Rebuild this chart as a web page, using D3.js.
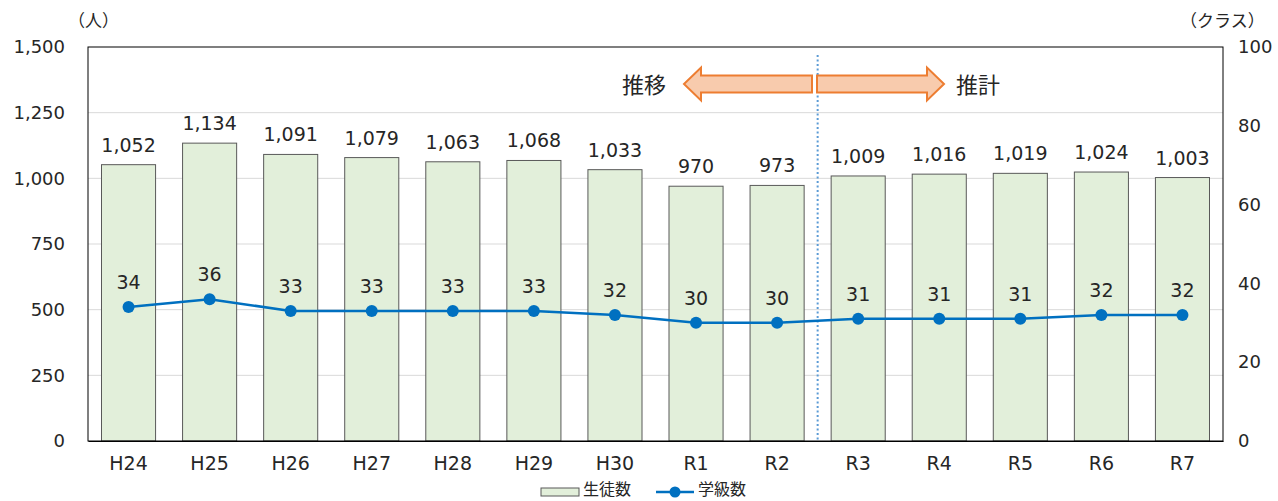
<!DOCTYPE html>
<html><head><meta charset="utf-8">
<script src="https://cdn.jsdelivr.net/npm/d3@7"></script>
<style>body{margin:0;background:#fff;}svg{display:block;font-family:"DejaVu Sans","Noto Sans CJK JP",sans-serif;}</style>
</head><body>
<svg id="c" width="1278" height="501"></svg>
<script>
const categories = ["H24","H25","H26","H27","H28","H29","H30","R1","R2","R3","R4","R5","R6","R7"];
const students = [1052,1134,1091,1079,1063,1068,1033,970,973,1009,1016,1019,1024,1003];
const classes = [34,36,33,33,33,33,32,30,30,31,31,31,32,32];
const leftTicks = [0,250,500,750,1000,1250,1500];
const rightTicks = [0,20,40,60,80,100];

const svg = d3.select("#c");
const L=88, R=1223, T=47, B=441;
const x = d3.scaleBand().domain(categories).range([L,R]).paddingInner(0.333).paddingOuter(0.1665);
const yL = d3.scaleLinear().domain([0,1500]).range([B,T]);
const yR = d3.scaleLinear().domain([0,100]).range([B,T]);
const fmt = d3.format(",");
const txt = "#262626";

// grid
svg.append("g").selectAll("line").data(leftTicks.filter(d=>d>0&&d<1500)).join("line")
  .attr("x1",L).attr("x2",R).attr("y1",d=>yL(d)).attr("y2",d=>yL(d))
  .attr("stroke","#d9d9d9").attr("stroke-width",1);

// bars
svg.append("g").selectAll("rect").data(students).join("rect")
  .attr("x",(d,i)=>x(categories[i])).attr("width",x.bandwidth())
  .attr("y",d=>yL(d)).attr("height",d=>B-yL(d))
  .attr("fill","#e2efda").attr("stroke","#595959").attr("stroke-width",1);

// frame
svg.append("rect").attr("x",L).attr("y",T).attr("width",R-L).attr("height",B-T)
  .attr("fill","none").attr("stroke","#000").attr("stroke-width",1);

// divider
const divX = x(categories[9]) - x.step()*x.paddingInner()/2;
svg.append("line").attr("x1",divX).attr("x2",divX).attr("y1",55).attr("y2",B)
  .attr("stroke","#5b9bd5").attr("stroke-width",2).attr("stroke-dasharray","2,2.5");

// axes
const axL = svg.append("g").attr("transform",`translate(${L},0)`)
  .call(d3.axisLeft(yL).tickValues(leftTicks).tickFormat(fmt).tickSize(0).tickPadding(23))
  .attr("font-family",null).attr("font-size",null);
axL.select(".domain").remove();
axL.selectAll("text").attr("font-size",18).attr("fill",txt);

const axR = svg.append("g").attr("transform",`translate(${R},0)`)
  .call(d3.axisRight(yR).tickValues(rightTicks).tickSize(0).tickPadding(15))
  .attr("font-family",null).attr("font-size",null);
axR.select(".domain").remove();
axR.selectAll("text").attr("font-size",18).attr("fill",txt);

const axB = svg.append("g").attr("transform",`translate(0,${B})`)
  .call(d3.axisBottom(x).tickSize(0).tickPadding(16))
  .attr("font-family",null).attr("font-size",null);
axB.select(".domain").attr("stroke","#000");
axB.selectAll("text").attr("font-size",19).attr("fill",txt);

// bar labels
svg.append("g").selectAll("text").data(students).join("text")
  .attr("x",(d,i)=>x(categories[i])+x.bandwidth()/2).attr("y",d=>yL(d)-13)
  .attr("text-anchor","middle").attr("font-size",19).attr("fill",txt).text(d=>fmt(d));

// line
const cx = (d,i)=>x(categories[i])+x.bandwidth()/2;
svg.append("path").datum(classes)
  .attr("d",d3.line().x(cx).y(d=>yR(d)))
  .attr("fill","none").attr("stroke","#0070c0").attr("stroke-width",2.5);
svg.append("g").selectAll("circle").data(classes).join("circle")
  .attr("cx",cx).attr("cy",d=>yR(d)).attr("r",6).attr("fill","#0070c0");
svg.append("g").selectAll("text").data(classes).join("text")
  .attr("x",cx).attr("y",d=>yR(d)-18).attr("text-anchor","middle")
  .attr("font-size",19).attr("fill",txt).text(d=>d);

// axis titles
svg.append("text").attr("x",68).attr("y",27).attr("font-size",17).attr("fill",txt)
  .attr("font-family","Noto Sans CJK JP").text("（人）");
svg.append("text").attr("x",1180).attr("y",27).attr("font-size",17).attr("fill",txt)
  .attr("font-family","Noto Sans CJK JP").text("（クラス）");

// arrows
function arrow(x0,x1,dir){
  const yc=84, hs=8.5, hh=16.5, hl=17;
  let pts;
  if(dir<0){
    pts=[[x0,yc],[x0+hl,yc-hh],[x0+hl,yc-hs],[x1,yc-hs],[x1,yc+hs],[x0+hl,yc+hs],[x0+hl,yc+hh]];
  } else {
    pts=[[x1,yc],[x1-hl,yc-hh],[x1-hl,yc-hs],[x0,yc-hs],[x0,yc+hs],[x1-hl,yc+hs],[x1-hl,yc+hh]];
  }
  svg.append("polygon").attr("points",pts.map(p=>p.join(",")).join(" "))
    .attr("fill","#f8cbad").attr("stroke","#ed7d31").attr("stroke-width",2);
}
arrow(684,812,-1);
arrow(817,944,1);
svg.append("text").attr("x",622).attr("y",93).attr("font-size",22).attr("fill",txt)
  .attr("font-family","Noto Sans CJK JP").text("推移");
svg.append("text").attr("x",956).attr("y",93).attr("font-size",22).attr("fill",txt)
  .attr("font-family","Noto Sans CJK JP").text("推計");

// legend
svg.append("rect").attr("x",541).attr("y",488).attr("width",38).attr("height",8)
  .attr("fill","#e2efda").attr("stroke","#595959").attr("stroke-width",1);
svg.append("text").attr("x",583).attr("y",495).attr("font-size",16).attr("fill",txt)
  .attr("font-family","Noto Sans CJK JP").text("生徒数");
svg.append("line").attr("x1",656).attr("x2",694).attr("y1",492).attr("y2",492).attr("stroke","#0070c0").attr("stroke-width",2.5);
svg.append("circle").attr("cx",675).attr("cy",492).attr("r",5.5).attr("fill","#0070c0");
svg.append("text").attr("x",698).attr("y",495).attr("font-size",16).attr("fill",txt)
  .attr("font-family","Noto Sans CJK JP").text("学級数");
</script>
</body></html>
